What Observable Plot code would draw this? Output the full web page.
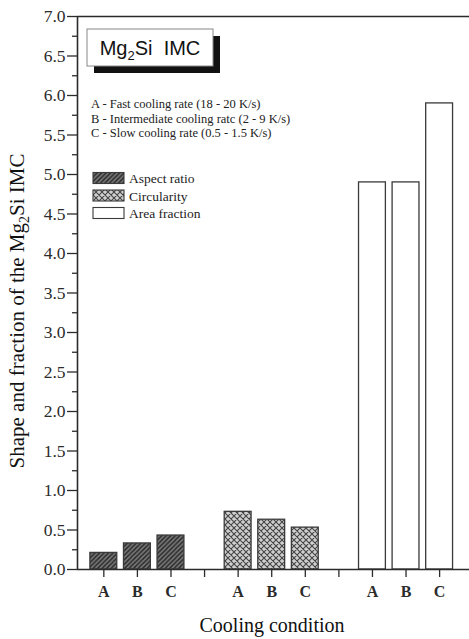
<!DOCTYPE html>
<html>
<head>
<meta charset="utf-8">
<script src="https://cdn.jsdelivr.net/npm/d3@7"></script>
<script src="https://cdn.jsdelivr.net/npm/@observablehq/plot@0.6"></script>
<style>
  html, body { margin: 0; padding: 0; background: #fff; }
  #chart svg { display: block; }
</style>
</head>
<body>
<div id="chart"></div>
<script>
// ---- data ----
const conditions = ["A", "B", "C"];
const seriesNames = ["Aspect ratio", "Circularity", "Area fraction"];
const aspectRatio = [0.21, 0.33, 0.43];
const circularity = [0.73, 0.63, 0.53];
const areaFraction = [4.9, 4.9, 5.9];
const conditionNotes = [
  "A - Fast cooling rate (18 - 20 K/s)",
  "B - Intermediate cooling ratc (2 - 9 K/s)",
  "C - Slow cooling rate (0.5 - 1.5 K/s)"
];
const yTicks = [0, 0.5, 1, 1.5, 2, 2.5, 3, 3.5, 4, 4.5, 5, 5.5, 6, 6.5, 7];
const yMinorTicks = [0.25, 0.75, 1.25, 1.75, 2.25, 2.75, 3.25, 3.75, 4.25, 4.75, 5.25, 5.75, 6.25, 6.75];

// ---- layout helpers ----
const seriesValues = [aspectRatio, circularity, areaFraction];
const seriesFill = ["url(#hatchAspect)", "url(#hatchCirc)", "#ffffff"];
const posOf = (g, i) => g * 4 + i + 1;
const xDomain = [0.216, 11.89];
const xTickPos = d3.range(1, 12);
const xTickLabel = p => (p % 4 === 0 ? "" : conditions[(p - 1) % 4]);

const axisColor = "#2b2b2b";
const serif = "'Liberation Serif', 'Times New Roman', serif";

const barMarks = seriesValues.map((vals, g) =>
  Plot.rectY(
    vals.map((v, i) => ({cond: conditions[i], pos: posOf(g, i), value: v})),
    {
      x1: d => d.pos - 0.4,
      x2: d => d.pos + 0.4,
      y1: 0,
      y2: "value",
      fill: seriesFill[g],
      stroke: "#3a3a3a",
      strokeWidth: 1.3
    }
  )
);

const chart = Plot.plot({
  width: 469,
  height: 639,
  marginLeft: 77,
  marginRight: 0,
  marginTop: 16,
  marginBottom: 70,
  style: {fontFamily: serif, color: axisColor, background: "#fff"},
  x: {type: "linear", domain: xDomain, axis: null},
  y: {domain: [0, 7], axis: null},
  marks: [
    ...barMarks,
    Plot.ruleY([0], {stroke: axisColor, strokeWidth: 1.6}),
    Plot.ruleY([7], {stroke: axisColor, strokeWidth: 1.6}),
    Plot.ruleX([xDomain[0]], {stroke: axisColor, strokeWidth: 1.6}),
    Plot.axisY({
      ticks: yTicks, tickFormat: d3.format(".1f"), tickSize: 10, tickPadding: 2,
      fontSize: 17.5, strokeWidth: 1.3, label: null
    }),
    Plot.axisY({
      ticks: yMinorTicks, tickFormat: () => "", tickSize: 5, strokeWidth: 1.3, label: null
    }),
    Plot.axisX({
      ticks: xTickPos, tickFormat: xTickLabel, tickSize: 8, tickPadding: 8,
      fontSize: 16, fontWeight: "bold", strokeWidth: 1.3, label: null
    })
  ]
});

document.getElementById("chart").appendChild(chart);

// ---- patterns and annotations ----
const svg = d3.select(chart);
const defs = svg.insert("defs", ":first-child");

const pA = defs.append("pattern").attr("id", "hatchAspect")
  .attr("patternUnits", "userSpaceOnUse").attr("width", 4.5).attr("height", 4.5);
pA.append("rect").attr("width", 4.5).attr("height", 4.5).attr("fill", "#7a7a7a");
pA.append("path").attr("d", "M-1,1 L1,-1 M0,4.5 L4.5,0 M3.5,5.5 L5.5,3.5")
  .attr("stroke", "#2a2a2a").attr("stroke-width", 1.5);

const pC = defs.append("pattern").attr("id", "hatchCirc")
  .attr("patternUnits", "userSpaceOnUse").attr("width", 6).attr("height", 6);
pC.append("rect").attr("width", 6).attr("height", 6).attr("fill", "#cfcfcf");
pC.append("path").attr("d", "M0,0 L6,6 M6,0 L0,6 M-1,5 L1,7 M5,-1 L7,1 M-1,1 L1,-1 M5,7 L7,5")
  .attr("stroke", "#444").attr("stroke-width", 1.1);

const ann = svg.append("g").attr("text-anchor", "start");

// title box with shadow
ann.append("rect").attr("x", 94).attr("y", 36).attr("width", 126).attr("height", 37).attr("fill", "#111");
ann.append("rect").attr("x", 87).attr("y", 29).attr("width", 126).attr("height", 37)
  .attr("fill", "#fff").attr("stroke", "#888").attr("stroke-width", 1);
const t = ann.append("text").attr("x", 150).attr("y", 55).attr("text-anchor", "middle")
  .attr("font-family", "'Liberation Sans', Arial, sans-serif").attr("font-size", 20).attr("fill", "#111")
  .attr("xml:space", "preserve");
t.append("tspan").text("Mg");
t.append("tspan").attr("font-size", 13).attr("dy", 5).text("2");
t.append("tspan").attr("dy", -5).text("Si  IMC");

// condition notes
conditionNotes.forEach((s, i) => {
  ann.append("text").attr("x", 91).attr("y", 108 + i * 14.5).attr("text-anchor", "start")
    .attr("font-family", serif).attr("font-size", 12.5).attr("fill", "#222").text(s);
});

// series legend
seriesNames.forEach((s, i) => {
  const y0 = 172.5 + i * 17.5;
  ann.append("rect").attr("x", 93).attr("y", y0).attr("width", 31).attr("height", 11)
    .attr("fill", seriesFill[i]).attr("stroke", "#3a3a3a").attr("stroke-width", 1.1);
  ann.append("text").attr("x", 129).attr("y", y0 + 10.5).attr("text-anchor", "start")
    .attr("font-family", serif).attr("font-size", 13.5).attr("fill", "#222").text(s);
});

// y-axis title
const yt = ann.append("text").attr("transform", "translate(24,311) rotate(-90)")
  .attr("text-anchor", "middle").attr("font-family", serif).attr("font-size", 21).attr("fill", "#111");
yt.append("tspan").text("Shape and fraction of the Mg");
yt.append("tspan").attr("font-size", 14).attr("dy", 5).text("2");
yt.append("tspan").attr("dy", -5).text("Si IMC");

// x-axis title
ann.append("text").attr("x", 272).attr("y", 632).attr("text-anchor", "middle")
  .attr("font-family", serif).attr("font-size", 20).attr("fill", "#111").text("Cooling condition");
</script>
</body>
</html>
